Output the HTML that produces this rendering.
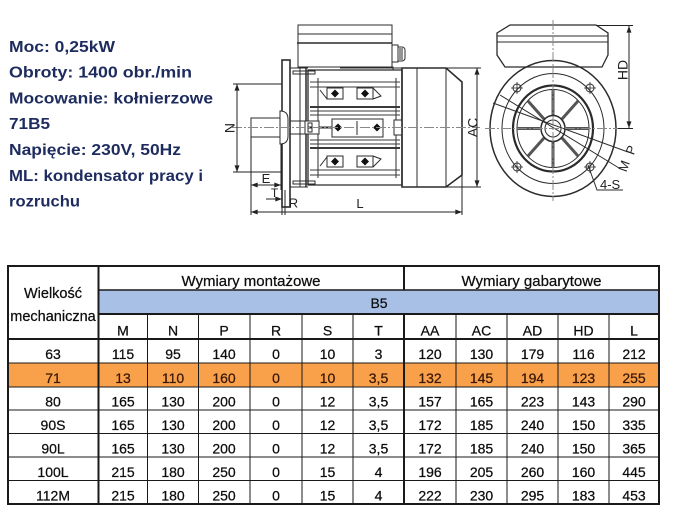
<!DOCTYPE html>
<html><head><meta charset="utf-8">
<style>
html,body{margin:0;padding:0;background:#fff;}
body{width:680px;height:510px;overflow:hidden;position:relative;}
svg{position:absolute;left:0;top:0;}
</style></head><body>
<svg width="680" height="510" viewBox="0 0 680 510" xmlns="http://www.w3.org/2000/svg">
<defs>
<marker id="ar" viewBox="0 0 8 6" refX="8" refY="3" markerWidth="7" markerHeight="5" orient="auto-start-reverse" markerUnits="userSpaceOnUse"><path d="M0,0 L8,3 L0,6z" fill="#222"/></marker>
</defs>

<!-- Info text -->
<g font-family="Liberation Sans, sans-serif" font-weight="bold" font-size="16" fill="#1d2b5e">
<text x="9" y="52" textLength="106" lengthAdjust="spacingAndGlyphs">Moc: 0,25kW</text>
<text x="9" y="77.5" textLength="183" lengthAdjust="spacingAndGlyphs">Obroty: 1400 obr./min</text>
<text x="9" y="103.5" textLength="204" lengthAdjust="spacingAndGlyphs">Mocowanie: kołnierzowe</text>
<text x="9" y="129" textLength="41" lengthAdjust="spacingAndGlyphs">71B5</text>
<text x="9" y="155" textLength="172" lengthAdjust="spacingAndGlyphs">Napięcie: 230V, 50Hz</text>
<text x="9" y="181" textLength="194" lengthAdjust="spacingAndGlyphs">ML: kondensator pracy i</text>
<text x="9" y="206.5" textLength="71" lengthAdjust="spacingAndGlyphs">rozruchu</text>
</g>

<!-- ===== Side view ===== -->
<g fill="none" stroke="#2b2b2b" stroke-width="1">
<rect x="298" y="25" width="94" height="42"/>
<line x1="298" y1="34" x2="392" y2="34"/>
<line x1="297" y1="43" x2="392" y2="43" stroke-width="1.5"/>
<rect x="392" y="45" width="6" height="17"/>
<path d="M398,47 h4 a3,3 0 0 1 3,3 v8 a3,3 0 0 1 -3,3 h-4"/>
<line x1="400" y1="48" x2="400" y2="60"/>
<line x1="402" y1="48" x2="402" y2="60"/>
<rect x="282" y="60" width="8" height="147" stroke-width="1.6"/>
<path d="M290,68 H308 M290,187 H308"/>
<line x1="300" y1="68" x2="300" y2="187"/>
<line x1="306" y1="68" x2="306" y2="187" stroke-width="1.5"/>
<rect x="293" y="71" width="22" height="3"/>
<rect x="293" y="181" width="22" height="3"/>
<path d="M308,70 H402 V185 H308 Z" stroke-width="1.3"/>
<path d="M340,68 H402 M362,67 H393 V70"/>
<line x1="318" y1="78" x2="318" y2="178"/>
<line x1="396" y1="78" x2="396" y2="178"/>
<g stroke="#3a3a3a">
<line x1="310" y1="82" x2="400" y2="82"/>
<line x1="310" y1="87" x2="400" y2="87"/>
<line x1="310" y1="107" x2="400" y2="107" stroke-width="2"/>
<line x1="310" y1="111" x2="400" y2="111"/>
<line x1="310" y1="115" x2="400" y2="115"/>
<line x1="310" y1="140" x2="400" y2="140"/>
<line x1="310" y1="144" x2="400" y2="144"/>
<line x1="310" y1="148" x2="400" y2="148" stroke-width="2"/>
<line x1="310" y1="170" x2="400" y2="170"/>
<line x1="310" y1="175" x2="400" y2="175"/>
</g>
<rect x="327" y="88" width="16" height="11" fill="#fff"/>
<rect x="357" y="88" width="16" height="11" fill="#fff"/>
<rect x="327" y="156" width="16" height="11" fill="#fff"/>
<rect x="357" y="156" width="16" height="11" fill="#fff"/>
<path d="M320,90 L327,99 M373,88 L381,96 L373,99 M320,166 L327,157 M373,167 L381,159 L373,156"/>
<rect x="332" y="119" width="51" height="18" fill="#fff"/>
<line x1="357" y1="121" x2="357" y2="135"/>
<rect x="305" y="121" width="14" height="13" fill="#fff"/>
<rect x="308" y="123" width="4" height="4"/>
<rect x="308" y="128" width="4" height="4"/>
<rect x="394" y="120" width="8" height="15" fill="#fff"/>
<line x1="319" y1="127.5" x2="332" y2="127.5" stroke-width="2"/>
<rect x="251" y="118" width="30" height="19" fill="#fff"/>
<path d="M280,111 q8,0 8,8 v17 q0,8 -8,8 z" fill="#fff"/>
<path d="M290,121 H305 M290,134 H305"/>
<path d="M402,68 H446 L462,82 V175 L446,187 H402 Z" stroke-width="1.6"/>
<line x1="417" y1="68" x2="417" y2="187"/>
<line x1="446" y1="68" x2="446" y2="187"/>
</g>
<g fill="#111">
<path d="M335,89.5 l4,4 -4,4 -4,-4z"/>
<path d="M365,89.5 l4,4 -4,4 -4,-4z"/>
<path d="M335,157.5 l4,4 -4,4 -4,-4z"/>
<path d="M365,157.5 l4,4 -4,4 -4,-4z"/>
<path d="M338,123.5 l4,4 -4,4 -4,-4z"/>
<path d="M377,123.5 l4,4 -4,4 -4,-4z"/>
</g>
<line x1="232" y1="127.5" x2="480" y2="127.5" stroke="#888" stroke-width="1" stroke-dasharray="10,2,2,2"/>

<g stroke="#222" stroke-width="1" fill="none">
<line x1="237" y1="84" x2="237" y2="172" marker-start="url(#ar)" marker-end="url(#ar)"/>
<line x1="233" y1="84" x2="282" y2="84"/>
<line x1="233" y1="172" x2="282" y2="172"/>
<line x1="251" y1="137" x2="251" y2="215"/>
<line x1="281" y1="144" x2="281" y2="190"/>
<line x1="251" y1="185" x2="281" y2="185" marker-start="url(#ar)" marker-end="url(#ar)"/>
<line x1="266" y1="199" x2="282" y2="199" marker-end="url(#ar)"/>
<line x1="282" y1="190" x2="282" y2="215"/>
<line x1="285" y1="190" x2="285" y2="215"/>
<line x1="251" y1="212" x2="462" y2="212" marker-start="url(#ar)" marker-end="url(#ar)"/>
<line x1="462" y1="175" x2="462" y2="215"/>
<line x1="477" y1="68" x2="477" y2="187" marker-start="url(#ar)" marker-end="url(#ar)"/>
<line x1="446" y1="68" x2="481" y2="68"/>
<line x1="446" y1="187" x2="481" y2="187"/>
</g>
<g font-family="Liberation Sans, sans-serif" fill="#222">
<text transform="translate(234.5,128) rotate(-90)" text-anchor="middle" font-size="14">N</text>
<text x="266" y="183" text-anchor="middle" font-size="13">E</text>
<text x="274.5" y="197" text-anchor="middle" font-size="12">T</text>
<text x="293.5" y="207.5" text-anchor="middle" font-size="13">R</text>
<text x="360" y="208" text-anchor="middle" font-size="13">L</text>
<text transform="translate(477.5,127.5) rotate(-90)" text-anchor="middle" font-size="14">AC</text>
</g>

<!-- ===== Front view ===== -->
<g fill="none" stroke="#2b2b2b" stroke-width="1">
<ellipse cx="553" cy="128.5" rx="63" ry="68" stroke-width="1.5"/>
<ellipse cx="553" cy="128.5" rx="51" ry="55"/>
<ellipse cx="553" cy="128.5" rx="40" ry="43" stroke-width="2.2"/>
<ellipse cx="553" cy="128.5" rx="36" ry="39"/>
<g stroke="#555" stroke-width="3">
<line x1="566" y1="128.5" x2="589" y2="128.5"/>
<line x1="540" y1="128.5" x2="517" y2="128.5"/>
<line x1="553" y1="115" x2="553" y2="90"/>
<line x1="553" y1="142" x2="553" y2="167"/>
<line x1="562" y1="119" x2="578" y2="101"/>
<line x1="544" y1="119" x2="528" y2="101"/>
<line x1="562" y1="138" x2="578" y2="156"/>
<line x1="544" y1="138" x2="528" y2="156"/>
</g>
<ellipse cx="553" cy="128.5" rx="12" ry="13" stroke-width="1.5" fill="#fff"/>
<ellipse cx="553" cy="128.5" rx="8" ry="8.5"/>
<path d="M497,33 L510,25 H596 L608,33 V55 L602,67 H505 L497,55 Z" stroke-width="1.3"/>
<line x1="497" y1="36" x2="608" y2="36"/>
<line x1="497" y1="42" x2="608" y2="42"/>
<circle cx="517" cy="88" r="4"/><circle cx="590" cy="88" r="4"/>
<circle cx="517" cy="167" r="4"/><circle cx="590" cy="167" r="4"/>
<path d="M511,88 h12 M517,82 v12 M584,88 h12 M590,82 v12 M511,167 h12 M517,161 v12 M584,167 h12 M590,161 v12" stroke-width="0.8"/>
<line x1="493" y1="103" x2="628" y2="152"/>
<line x1="500" y1="95" x2="619" y2="168"/>
<path d="M588,165 L597,190 H623"/>
</g>
<g stroke="#888" stroke-width="1" stroke-dasharray="10,2,2,2">
<line x1="553" y1="20" x2="553" y2="201"/>
<line x1="485" y1="128.5" x2="622" y2="128.5"/>
</g>
<g stroke="#222" stroke-width="1" fill="none">
<line x1="629" y1="26" x2="629" y2="128" marker-start="url(#ar)" marker-end="url(#ar)"/>
<line x1="596" y1="25.5" x2="633" y2="25.5"/>
<line x1="618" y1="128.5" x2="633" y2="128.5"/>
</g>
<g font-family="Liberation Sans, sans-serif" fill="#222">
<text transform="translate(627.5,70) rotate(-90)" text-anchor="middle" font-size="14">HD</text>
<text transform="translate(631,150) rotate(-70)" text-anchor="middle" dy="4.5" font-size="13">P</text>
<text transform="translate(624,166) rotate(-70)" text-anchor="middle" dy="4.5" font-size="13">M</text>
<text x="600" y="189" font-size="13">4-S</text>
</g>

<!-- ===== Table ===== -->
<rect x="98.5" y="290" width="560.5" height="24" fill="#a9c0e6"/>
<rect x="8" y="363" width="651" height="24" fill="#f9a04b"/>
<g stroke="#1a1a1a" fill="none">
<rect x="8" y="266" width="651" height="238" stroke-width="2"/>
<line x1="98.5" y1="266" x2="98.5" y2="504" stroke-width="2"/>
<line x1="98.5" y1="290" x2="659" y2="290" stroke-width="1.5"/>
<line x1="98.5" y1="314" x2="659" y2="314" stroke-width="2"/>
<line x1="8" y1="339" x2="659" y2="339" stroke-width="2"/>
<line x1="404" y1="266" x2="404" y2="290" stroke-width="2"/>
<line x1="404" y1="314" x2="404" y2="504" stroke-width="2"/>
<g stroke-width="1">
<line x1="147.5" y1="314" x2="147.5" y2="504"/>
<line x1="198.5" y1="314" x2="198.5" y2="504"/>
<line x1="250" y1="314" x2="250" y2="504"/>
<line x1="302" y1="314" x2="302" y2="504"/>
<line x1="353" y1="314" x2="353" y2="504"/>
<line x1="456" y1="314" x2="456" y2="504"/>
<line x1="507" y1="314" x2="507" y2="504"/>
<line x1="558" y1="314" x2="558" y2="504"/>
<line x1="609" y1="314" x2="609" y2="504"/>
<line x1="8" y1="363" x2="659" y2="363"/>
<line x1="8" y1="387" x2="659" y2="387"/>
<line x1="8" y1="410" x2="659" y2="410"/>
<line x1="8" y1="433.5" x2="659" y2="433.5"/>
<line x1="8" y1="457" x2="659" y2="457"/>
<line x1="8" y1="480.5" x2="659" y2="480.5"/>
</g>
</g>

<g font-family="Liberation Sans, sans-serif" fill="#0d0d0d" stroke="#0d0d0d" stroke-width="0.25" text-anchor="middle" font-size="14">
<text x="53" y="298" font-size="14.5">Wielkość</text>
<text x="53" y="321" font-size="14.5">mechaniczna</text>
<text x="251" y="286" font-size="15">Wymiary montażowe</text>
<text x="531.5" y="286" font-size="15">Wymiary gabarytowe</text>
<text x="379" y="308">B5</text>
<g>
<text x="123" y="335.5">M</text><text x="173" y="335.5">N</text><text x="224" y="335.5">P</text><text x="276" y="335.5">R</text><text x="327.5" y="335.5">S</text><text x="378.5" y="335.5">T</text><text x="430" y="335.5">AA</text><text x="481.5" y="335.5">AC</text><text x="532.5" y="335.5">AD</text><text x="583.5" y="335.5">HD</text><text x="634" y="335.5">L</text>
</g>
<g>
<text x="53" y="359">63</text><text x="123" y="359">115</text><text x="173" y="359">95</text><text x="224" y="359">140</text><text x="276" y="359">0</text><text x="327.5" y="359">10</text><text x="378.5" y="359">3</text><text x="430" y="359">120</text><text x="481.5" y="359">130</text><text x="532.5" y="359">179</text><text x="583.5" y="359">116</text><text x="634" y="359">212</text>
</g>
<g fill="#3a1808" stroke="#3a1808">
<text x="53" y="383">71</text><text x="123" y="383">13</text><text x="173" y="383">110</text><text x="224" y="383">160</text><text x="276" y="383">0</text><text x="327.5" y="383">10</text><text x="378.5" y="383">3,5</text><text x="430" y="383">132</text><text x="481.5" y="383">145</text><text x="532.5" y="383">194</text><text x="583.5" y="383">123</text><text x="634" y="383">255</text>
</g>
<g>
<text x="53" y="406.5">80</text><text x="123" y="406.5">165</text><text x="173" y="406.5">130</text><text x="224" y="406.5">200</text><text x="276" y="406.5">0</text><text x="327.5" y="406.5">12</text><text x="378.5" y="406.5">3,5</text><text x="430" y="406.5">157</text><text x="481.5" y="406.5">165</text><text x="532.5" y="406.5">223</text><text x="583.5" y="406.5">143</text><text x="634" y="406.5">290</text>
</g>
<g>
<text x="53" y="430">90S</text><text x="123" y="430">165</text><text x="173" y="430">130</text><text x="224" y="430">200</text><text x="276" y="430">0</text><text x="327.5" y="430">12</text><text x="378.5" y="430">3,5</text><text x="430" y="430">172</text><text x="481.5" y="430">185</text><text x="532.5" y="430">240</text><text x="583.5" y="430">150</text><text x="634" y="430">335</text>
</g>
<g>
<text x="53" y="453.5">90L</text><text x="123" y="453.5">165</text><text x="173" y="453.5">130</text><text x="224" y="453.5">200</text><text x="276" y="453.5">0</text><text x="327.5" y="453.5">12</text><text x="378.5" y="453.5">3,5</text><text x="430" y="453.5">172</text><text x="481.5" y="453.5">185</text><text x="532.5" y="453.5">240</text><text x="583.5" y="453.5">150</text><text x="634" y="453.5">365</text>
</g>
<g>
<text x="53" y="477">100L</text><text x="123" y="477">215</text><text x="173" y="477">180</text><text x="224" y="477">250</text><text x="276" y="477">0</text><text x="327.5" y="477">15</text><text x="378.5" y="477">4</text><text x="430" y="477">196</text><text x="481.5" y="477">205</text><text x="532.5" y="477">260</text><text x="583.5" y="477">160</text><text x="634" y="477">445</text>
</g>
<g>
<text x="53" y="500.5">112M</text><text x="123" y="500.5">215</text><text x="173" y="500.5">180</text><text x="224" y="500.5">250</text><text x="276" y="500.5">0</text><text x="327.5" y="500.5">15</text><text x="378.5" y="500.5">4</text><text x="430" y="500.5">222</text><text x="481.5" y="500.5">230</text><text x="532.5" y="500.5">295</text><text x="583.5" y="500.5">183</text><text x="634" y="500.5">453</text>
</g>
</g>
</svg>
</body></html>
